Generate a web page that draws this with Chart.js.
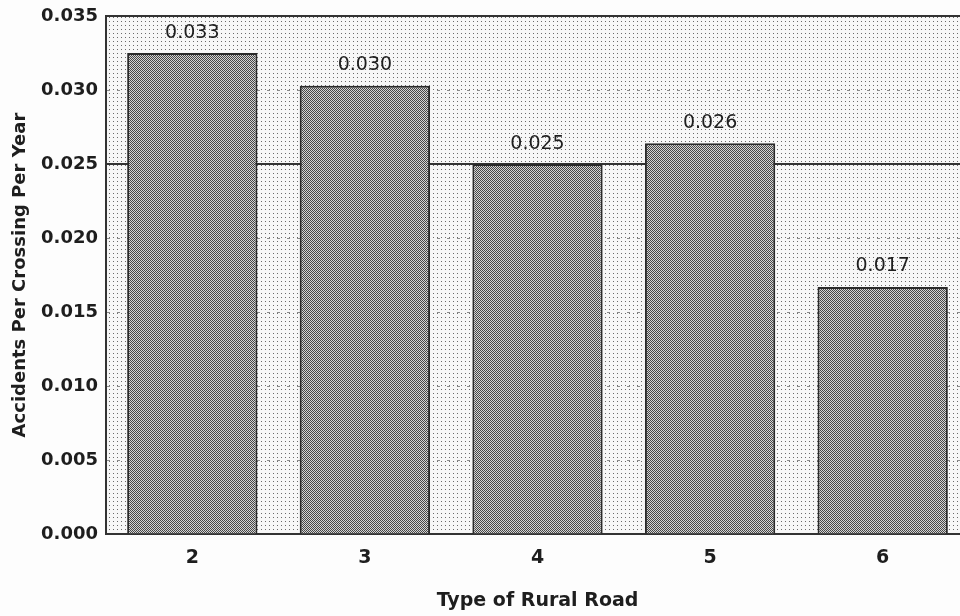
<!DOCTYPE html>
<html>
<head>
<meta charset="utf-8">
<title>Accidents Per Crossing Per Year</title>
<script src="https://cdn.jsdelivr.net/npm/chart.js@4/dist/chart.umd.min.js"></script>
<style>
    body { margin: 0; background: #fdfdfd; overflow: hidden; }
    #wrap { width: 972px; height: 616px; }
</style>
</head>
<body>
<div id="wrap"><canvas id="accidentChart" width="972" height="616"></canvas></div>
<script>
const roadTypes = ['2', '3', '4', '5', '6'];
const accidentRates = [0.0325, 0.0303, 0.0250, 0.0264, 0.0167];
const rateLabels = ['0.033', '0.030', '0.025', '0.026', '0.017'];
const yTickValues = [0, 0.005, 0.010, 0.015, 0.020, 0.025, 0.030, 0.035];
const solidLines = [0.025, 0.035];

function makePattern(size, paint) {
    const c = document.createElement('canvas');
    c.width = size;
    c.height = size;
    const g = c.getContext('2d');
    paint(g);
    return document.getElementById('accidentChart').getContext('2d').createPattern(c, 'repeat');
}

// light stipple behind the bars
const bgPattern = makePattern(4, g => {
    g.fillStyle = '#f7f7f7';
    g.fillRect(0, 0, 4, 4);
    g.fillStyle = '#6a6a6a';
    g.fillRect(1, 1, 1, 1);
});

// dense checker inside the bars
const barPattern = makePattern(2, g => {
    g.fillStyle = '#d4d4d4';
    g.fillRect(0, 0, 2, 2);
    g.fillStyle = '#474747';
    g.fillRect(0, 0, 1, 1);
    g.fillRect(1, 1, 1, 1);
});

const plotDecor = {
    id: 'plotDecor',
    beforeDraw(chart) {
        const a = chart.chartArea;
        const ctx = chart.ctx;
        ctx.save();
        ctx.fillStyle = bgPattern;
        ctx.fillRect(a.left, a.top, a.right - a.left, a.bottom - a.top);
        ctx.restore();
    },
    beforeDatasetsDraw(chart) {
        const a = chart.chartArea;
        const ctx = chart.ctx;
        const y = chart.scales.y;
        ctx.save();
        ctx.strokeStyle = '#333';
        ctx.lineWidth = 2;
        solidLines.forEach(v => {
            const py = Math.round(y.getPixelForValue(v));
            ctx.beginPath();
            ctx.moveTo(a.left, py);
            ctx.lineTo(a.right, py);
            ctx.stroke();
        });
        ctx.restore();
    },
    afterDatasetsDraw(chart) {
        const ctx = chart.ctx;
        const meta = chart.getDatasetMeta(0);
        ctx.save();
        ctx.fillStyle = '#1e1e1e';
        ctx.font = '19px "DejaVu Sans"';
        ctx.textAlign = 'center';
        ctx.textBaseline = 'bottom';
        meta.data.forEach((bar, i) => {
            ctx.fillText(rateLabels[i], bar.x, bar.y - 11);
        });
        ctx.restore();
    }
};

new Chart(document.getElementById('accidentChart'), {
    type: 'bar',
    data: {
        labels: roadTypes,
        datasets: [{
            data: accidentRates,
            backgroundColor: barPattern,
            borderColor: '#2a2a2a',
            borderWidth: 2,
            barPercentage: 0.755,
            categoryPercentage: 1
        }]
    },
    options: {
        responsive: false,
        animation: false,
        layout: { padding: { top: 12, right: 3, left: 0, bottom: 0 } },
        plugins: {
            legend: { display: false },
            tooltip: { enabled: false }
        },
        scales: {
            x: {
                grid: { display: false, drawTicks: false },
                border: { display: true, color: '#333', width: 2 },
                ticks: {
                    color: '#1e1e1e',
                    font: { family: 'DejaVu Sans', size: 19, weight: 'bold' },
                    padding: 13
                },
                title: {
                    display: true,
                    text: 'Type of Rural Road',
                    color: '#1e1e1e',
                    font: { family: 'DejaVu Sans', size: 19, weight: 'bold' },
                    padding: { top: 0, bottom: 4 }
                },
                afterFit(scale) { scale.height = 82; }
            },
            y: {
                min: 0,
                max: 0.035,
                afterBuildTicks(scale) {
                    scale.ticks = yTickValues.map(v => ({ value: v }));
                },
                grid: { color: 'rgba(50,50,50,0.55)', lineWidth: 1, drawTicks: false },
                border: { display: true, color: '#333', width: 2, dash: [3, 7] },
                ticks: {
                    color: '#1e1e1e',
                    font: { family: 'DejaVu Sans', size: 18, weight: 'bold', lineHeight: 0.9 },
                    padding: 8,
                    callback: v => Number(v).toFixed(3)
                },
                title: {
                    display: true,
                    text: 'Accidents Per Crossing Per Year',
                    color: '#1e1e1e',
                    font: { family: 'DejaVu Sans', size: 18, weight: 'bold' },
                    padding: { top: 10, bottom: 0 }
                },
                afterFit(scale) { scale.width = 106; }
            }
        }
    },
    plugins: [plotDecor]
});
</script>
</body>
</html>
